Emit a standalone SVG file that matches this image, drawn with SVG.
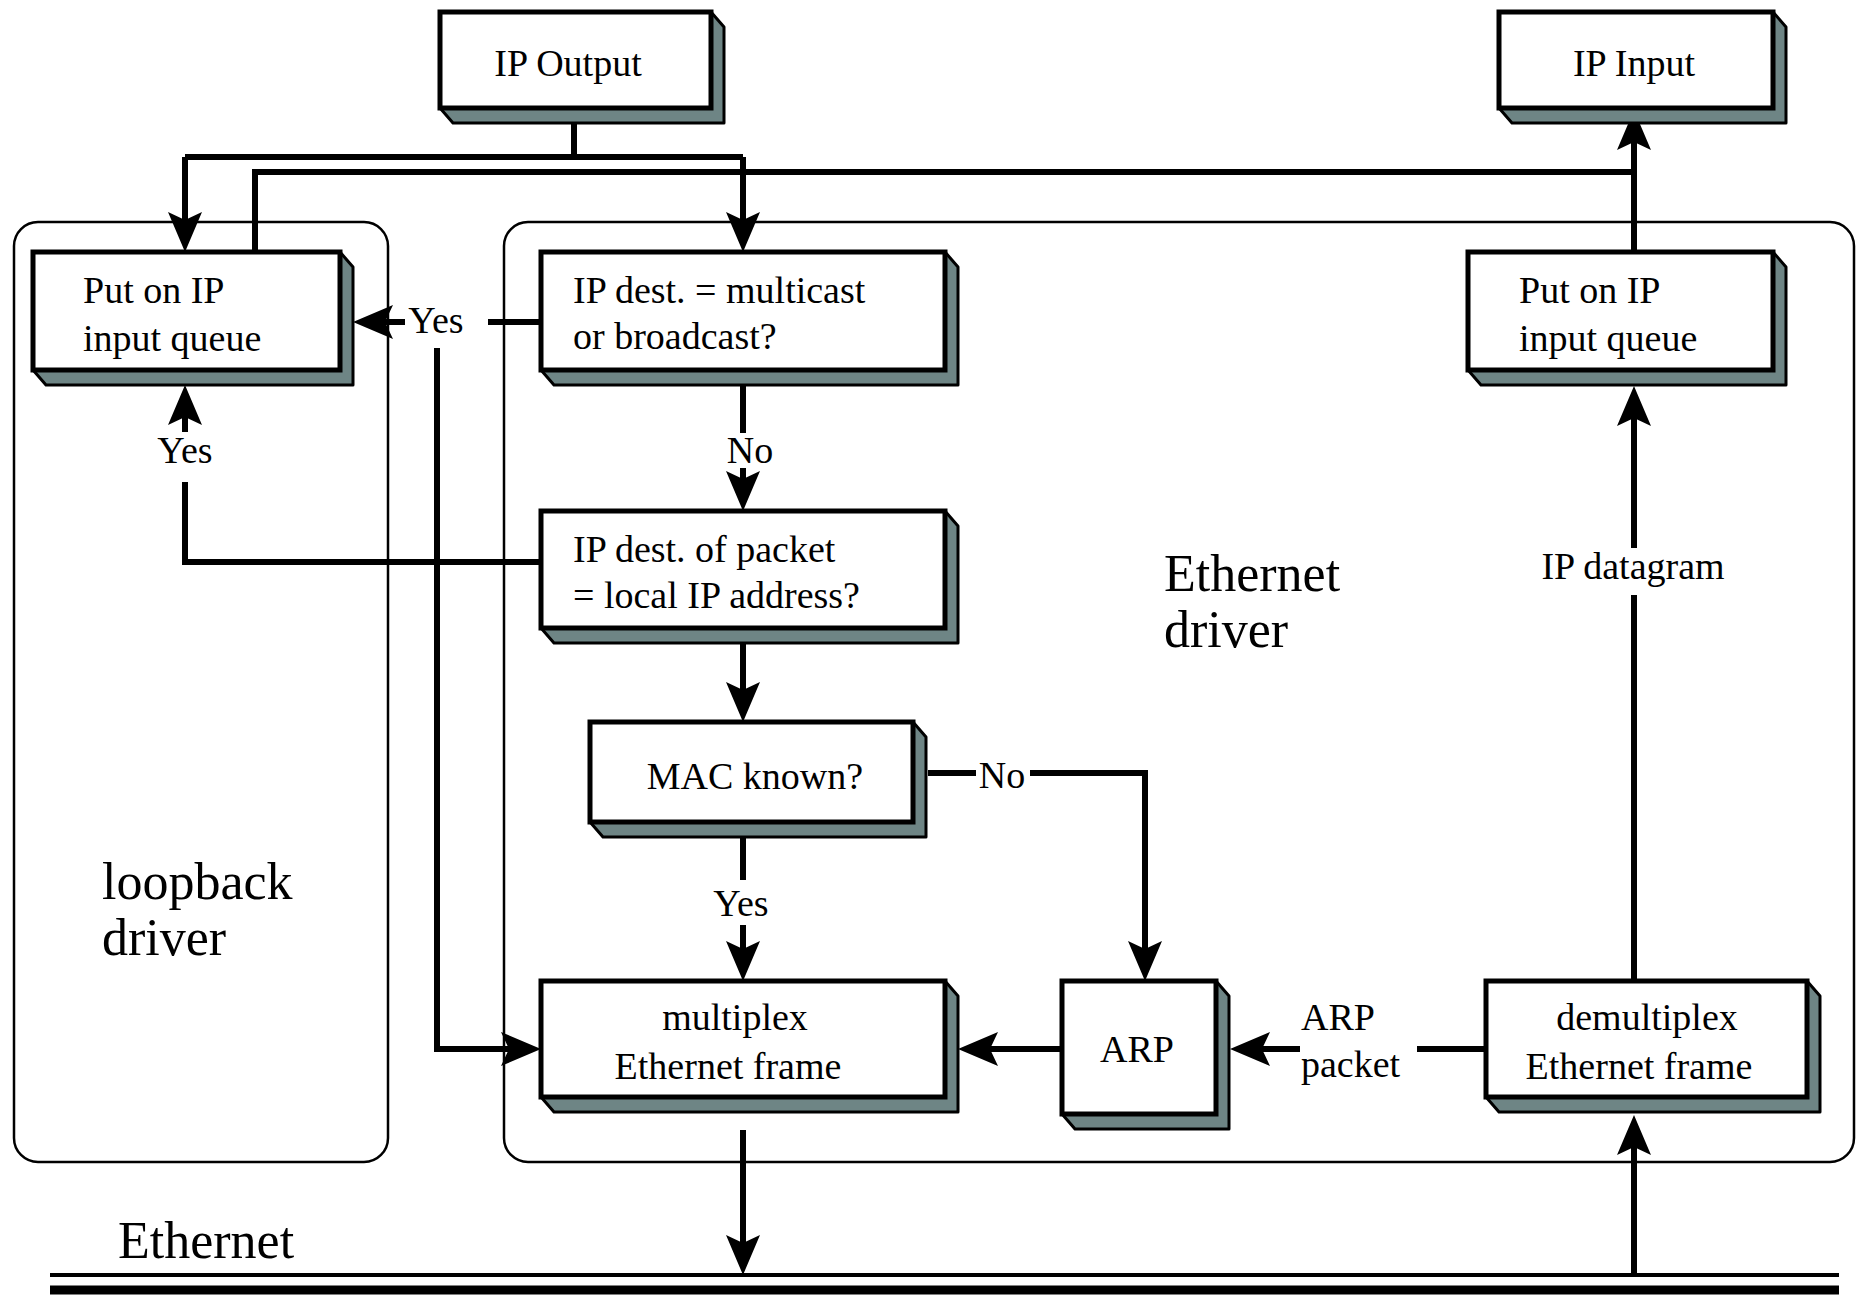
<svg xmlns="http://www.w3.org/2000/svg" width="1859" height="1302" viewBox="0 0 1859 1302">
<style>
.front{fill:#fff;stroke:#000;stroke-width:5}
.shadow{fill:#6e8585;stroke:#000;stroke-width:3;stroke-linejoin:round}
.cont{fill:none;stroke:#000;stroke-width:2.5}
.t{font-family:"Liberation Serif","Times New Roman",serif;font-size:38px;fill:#000}
.big{font-family:"Liberation Serif","Times New Roman",serif;font-size:52px;fill:#000}
.m{text-anchor:middle}
.c{fill:none;stroke:#000;stroke-width:6}
</style>
<defs>
<marker id="ah" markerUnits="userSpaceOnUse" markerWidth="50" markerHeight="40" viewBox="-12 -20 50 40" refX="0" refY="0" orient="auto">
<path d="M32,0 L-8,-17 L0,0 L-8,17 Z" fill="#000"/>
</marker>
</defs>
<rect width="1859" height="1302" fill="#fff"/>
<g id="loopback-driver">
<rect class="cont" x="14" y="222" width="374" height="940" rx="24"/>
<text class="big" x="102" y="899">loopback</text>
<text class="big" x="102" y="955">driver</text>
</g>
<g id="ethernet-driver">
<rect class="cont" x="504" y="222" width="1350" height="940" rx="24"/>
<text class="big" x="1164" y="591">Ethernet</text>
<text class="big" x="1164" y="647">driver</text>
</g>
<g id="ethernet">
<line x1="50" y1="1275" x2="1839" y2="1275" stroke="#000" stroke-width="4"/>
<line x1="50" y1="1290" x2="1839" y2="1290" stroke="#000" stroke-width="9"/>
<text class="big" x="118" y="1258">Ethernet</text>
</g>
<g id="connectors">
<path class="c" d="M574,110 V157"/>
<path class="c" d="M185,157 H743"/>
<path class="c" d="M185,157 V220" marker-end="url(#ah)"/>
<path class="c" d="M743,157 V220" marker-end="url(#ah)"/>
<path class="c" d="M255,252 V172 H1634"/>
<path class="c" d="M1634,252 V142" marker-end="url(#ah)"/>
<path class="c" d="M541,322 H488"/>
<path class="c" d="M405,322 H385" marker-end="url(#ah)"/>
<path class="c" d="M437,348 V1049 H509" marker-end="url(#ah)"/>
<path class="c" d="M743,370 V433"/>
<path class="c" d="M743,468 V479" marker-end="url(#ah)"/>
<path class="c" d="M541,562 H185 V482"/>
<path class="c" d="M185,432 V417" marker-end="url(#ah)"/>
<path class="c" d="M743,628 V690" marker-end="url(#ah)"/>
<path class="c" d="M743,822 V880"/>
<path class="c" d="M743,925 V949" marker-end="url(#ah)"/>
<path class="c" d="M928,773 H976"/>
<path class="c" d="M1030,773 H1145 V949" marker-end="url(#ah)"/>
<path class="c" d="M1062,1049 H990" marker-end="url(#ah)"/>
<path class="c" d="M1486,1049 H1417"/>
<path class="c" d="M1300,1049 H1262" marker-end="url(#ah)"/>
<path class="c" d="M1634,981 V595"/>
<path class="c" d="M1634,548 V418" marker-end="url(#ah)"/>
<path class="c" d="M743,1130 V1243" marker-end="url(#ah)"/>
<path class="c" d="M1634,1275 V1147" marker-end="url(#ah)"/>
</g>
<g id="connector-labels">
<text class="t m" x="436" y="333">Yes</text>
<text class="t m" x="185" y="463">Yes</text>
<text class="t m" x="750" y="463">No</text>
<text class="t m" x="741" y="916">Yes</text>
<text class="t m" x="1002" y="788">No</text>
<text class="t" x="1301" y="1030">ARP</text>
<text class="t" x="1301" y="1077">packet</text>
<text class="t m" x="1633" y="579">IP datagram</text>
</g>
<g id="ip-output">
<polygon class="shadow" points="711,12 724,27 724,123 453,123 440,108 711,108"/>
<rect class="front" x="440" y="12" width="271" height="96"/>
<text class="t m" x="568" y="76">IP Output</text>
</g>
<g id="ip-input">
<polygon class="shadow" points="1773,12 1786,27 1786,123 1512,123 1499,108 1773,108"/>
<rect class="front" x="1499" y="12" width="274" height="96"/>
<text class="t m" x="1634" y="76">IP Input</text>
</g>
<g id="put-queue-loopback">
<polygon class="shadow" points="340,252 353,267 353,385 46,385 33,370 340,370"/>
<rect class="front" x="33" y="252" width="307" height="118"/>
<text class="t" x="83" y="303">Put on IP</text>
<text class="t" x="83" y="351">input queue</text>
</g>
<g id="multicast-test">
<polygon class="shadow" points="945,252 958,267 958,385 554,385 541,370 945,370"/>
<rect class="front" x="541" y="252" width="404" height="118"/>
<text class="t" x="573" y="303">IP dest. = multicast</text>
<text class="t" x="573" y="349">or broadcast?</text>
</g>
<g id="put-queue-ethernet">
<polygon class="shadow" points="1773,252 1786,267 1786,385 1481,385 1468,370 1773,370"/>
<rect class="front" x="1468" y="252" width="305" height="118"/>
<text class="t" x="1519" y="303">Put on IP</text>
<text class="t" x="1519" y="351">input queue</text>
</g>
<g id="local-test">
<polygon class="shadow" points="945,511 958,526 958,643 554,643 541,628 945,628"/>
<rect class="front" x="541" y="511" width="404" height="117"/>
<text class="t" x="573" y="562">IP dest. of packet</text>
<text class="t" x="573" y="608">= local IP address?</text>
</g>
<g id="mac-known">
<polygon class="shadow" points="913,722 926,737 926,837 603,837 590,822 913,822"/>
<rect class="front" x="590" y="722" width="323" height="100"/>
<text class="t m" x="755" y="789">MAC known?</text>
</g>
<g id="multiplex">
<polygon class="shadow" points="945,981 958,996 958,1112 554,1112 541,1097 945,1097"/>
<rect class="front" x="541" y="981" width="404" height="116"/>
<text class="t m" x="735" y="1030">multiplex</text>
<text class="t m" x="728" y="1079">Ethernet frame</text>
</g>
<g id="arp">
<polygon class="shadow" points="1216,981 1229,996 1229,1129 1075,1129 1062,1114 1216,1114"/>
<rect class="front" x="1062" y="981" width="154" height="133"/>
<text class="t m" x="1137" y="1062">ARP</text>
</g>
<g id="demultiplex">
<polygon class="shadow" points="1807,981 1820,996 1820,1112 1499,1112 1486,1097 1807,1097"/>
<rect class="front" x="1486" y="981" width="321" height="116"/>
<text class="t m" x="1647" y="1030">demultiplex</text>
<text class="t m" x="1639" y="1079">Ethernet frame</text>
</g>
</svg>
